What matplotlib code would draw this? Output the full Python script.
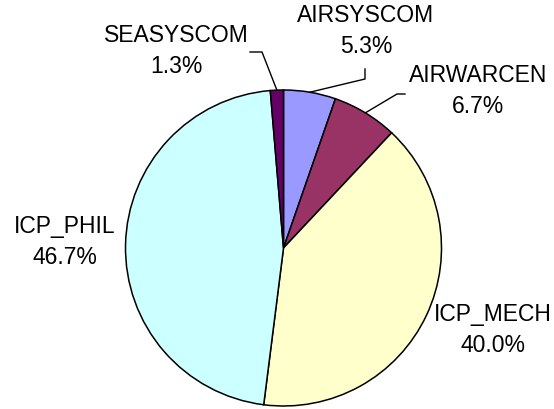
import numpy as np
import matplotlib
matplotlib.use("Agg")
import matplotlib.pyplot as plt

plt.rcParams["font.family"] = ["Liberation Sans", "DejaVu Sans"]

# данные диаграммы (по часовой стрелке от 12 часов)
labels = ["AIRSYSCOM", "AIRWARCEN", "ICP_MECH", "ICP_PHIL", "SEASYSCOM"]
counts = [4, 5, 30, 35, 1]
colors = ["#9999FF", "#993366", "#FFFFCC", "#CCFFFF", "#660066"]

W, H = 554, 410
CX, CY, R = 283.5, 249, 158

fig = plt.figure(figsize=(W / 100, H / 100), dpi=100)
ax = fig.add_axes([(CX - R) / W, (H - CY - R) / H, 2 * R / W, 2 * R / H])

wedges, _ = ax.pie(counts, colors=colors, startangle=90, counterclock=False,
                   radius=1.0, wedgeprops=dict(edgecolor="black", linewidth=1.1))
ax.set_xlim(-1, 1)
ax.set_ylim(-1, 1)
ax.set_aspect("equal")
ax.axis("off")


def px(x, y):
    # пиксели картинки -> координаты осей
    return (x - CX) / R, (CY - y) / R


# положение подписей (пиксели) и точки излома выносок
label_pos = {
    "AIRSYSCOM": (366, 31),
    "AIRWARCEN": (478, 91),
    "ICP_MECH": (493, 330),
    "ICP_PHIL": (65, 242),
    "SEASYSCOM": (176, 51),
}
leaders = {
    "AIRSYSCOM": [(365, 70), (365, 80)],
    "AIRWARCEN": [(405, 95), (397, 95)],
    "SEASYSCOM": [(250, 53), (262, 53)],
}

total = sum(counts)
for w, lab, n in zip(wedges, labels, counts):
    pct = 100 * n / total
    tx, ty = px(*label_pos[lab])
    ax.text(tx, ty, f"{lab}\n{pct:.1f}%", ha="center", va="center",
            fontsize=16.5, linespacing=1.4, clip_on=False)
    if lab in leaders:
        mid = np.deg2rad((w.theta1 + w.theta2) / 2)
        pts = [px(*p) for p in leaders[lab]] + [(np.cos(mid), np.sin(mid))]
        xs, ys = zip(*pts)
        ax.plot(xs, ys, color="black", linewidth=1.0, clip_on=False)

fig.savefig("out.png", dpi=100)
